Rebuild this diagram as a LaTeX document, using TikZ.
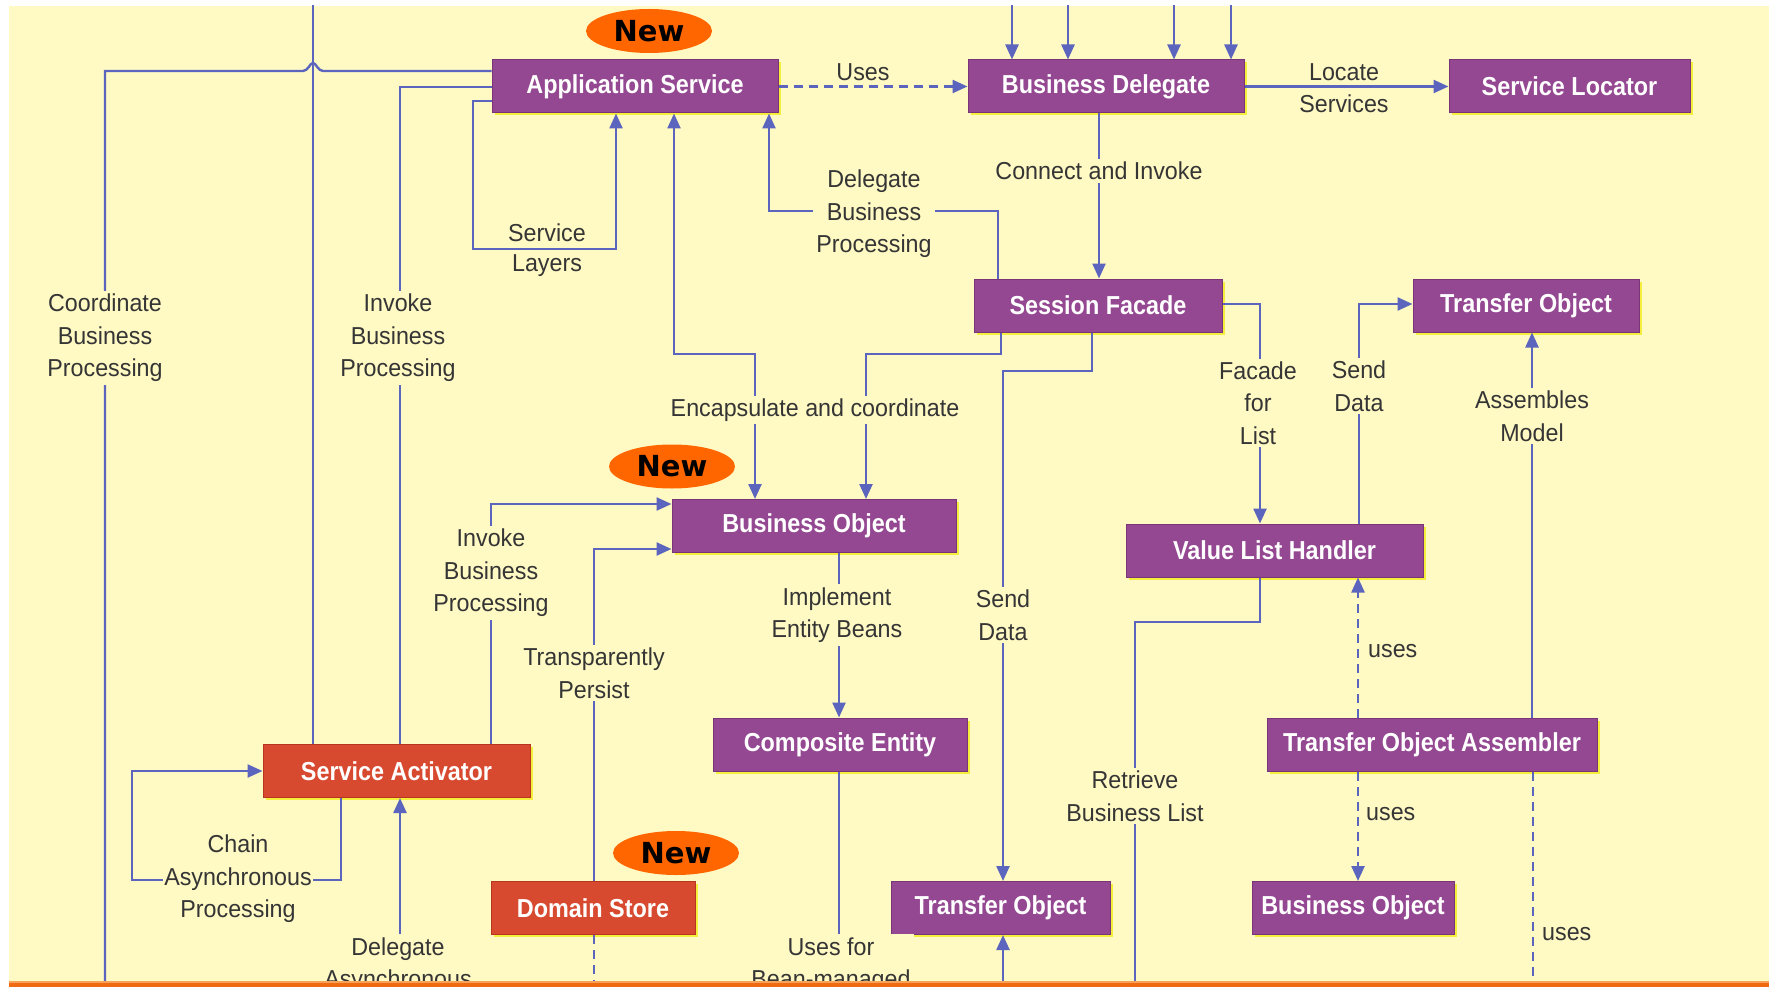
\documentclass[tikz,border=0pt]{standalone}
\usepackage{fontspec}
\setmainfont{Liberation Sans}
\newfontfamily\boxfam{Liberation Sans}[FakeStretch=0.9]
\newfontfamily\lblfam{Liberation Sans}[FakeStretch=0.95]
\newfontfamily\badgefam{DejaVu Sans}
\usetikzlibrary{arrows.meta,shapes.geometric,shadows}

\definecolor{bg}{HTML}{FFF9C4}
\definecolor{band}{HTML}{F06A12}
\definecolor{wire}{HTML}{5B65BD}
\definecolor{plum}{HTML}{944892}
\definecolor{plumedge}{HTML}{7A3478}
\definecolor{brick}{HTML}{D84A30}
\definecolor{brickedge}{HTML}{B8361F}
\definecolor{glow}{HTML}{F6EE3C}
\definecolor{ink}{HTML}{353535}
\definecolor{badge}{HTML}{FF6600}

\newcommand\lblfont{\lblfam\fontsize{24.5}{32.5}\selectfont}
\newcommand\boxfont{\boxfam\fontsize{26}{28}\selectfont\bfseries}

\begin{document}
\begin{tikzpicture}[x=1pt,y=-1pt,
  pattern box/.style={line width=1pt, text=white, minimum height=53pt,
    inner sep=0pt, font=\boxfont,
    drop shadow={shadow xshift=2.5pt, shadow yshift=-2.5pt, fill=glow, opacity=1}},
  pbox/.style={pattern box, draw=plumedge, fill=plum},
  rbox/.style={pattern box, draw=brickedge, fill=brick},
  badge/.style={ellipse, fill=badge, minimum width=126pt, minimum height=44pt,
    inner sep=0pt, font=\badgefam\bfseries\fontsize{29}{30}\selectfont},
  wire/.style={draw=wire, line width=2.4pt},
  tip/.style={-{Triangle[length=15pt,width=13pt]}},
  tips/.style={{Triangle[length=15pt,width=13pt]}-{Triangle[length=15pt,width=13pt]}},
  dashwire/.style={dash pattern=on 9pt off 6pt},
  txt/.style={text=ink, align=center, inner sep=2pt, font=\lblfont},
  lbl/.style={txt, fill=bg, inner sep=3pt},
]
\useasboundingbox (0,0) rectangle (1769,987);
\fill[white] (0,0) rectangle (1769,987);
\fill[bg] (9,6) rectangle (1769,982);

\begin{scope}
\clip (9,6) rectangle (1769,982);

% pattern boxes
\node[pbox, minimum width=286pt] (AS) at (635,86.5) {Application Service};
\node[pbox, minimum width=276pt] (BD) at (1106,86.5) {Business Delegate};
\node[pbox, minimum width=241pt] (SL) at (1569.5,86.5) {Service Locator};
\node[pbox, minimum width=248pt] (SF) at (1098,305.5) {Session Facade};
\node[pbox, minimum width=226pt] (TOa) at (1526,305.5) {Transfer Object};
\node[pbox, minimum width=284pt] (BOa) at (814,526) {Business Object};
\node[pbox, minimum width=297pt] (VLH) at (1274.5,550.5) {Value List Handler};
\node[pbox, minimum width=254pt] (CE) at (840,744.5) {Composite Entity};
\node[rbox, minimum width=267pt] (SA) at (396.5,771) {Service Activator};
\node[pbox, minimum width=330pt] (TOA) at (1432,744.5) {Transfer Object Assembler};
\node[rbox, minimum width=204pt] (DS) at (593,908) {Domain Store};
\node[pbox, minimum width=219pt] (TOb) at (1000.5,908) {Transfer Object};
\node[pbox, minimum width=202pt] (BOb) at (1353,908) {Business Object};

% "New" badges
\node[badge] (new1) at (649,31) {New};
\node[badge] (new2) at (672,466.5) {New};
\node[badge] (new3) at (676,853) {New};

% free ends at the picture border
\coordinate (eTopA) at (313,0);
\coordinate (eTop1) at (1012,0);
\coordinate (eTop2) at (1068,0);
\coordinate (eTop3) at (1174,0);
\coordinate (eTop4) at (1231,0);
\coordinate (eBotCoord) at (105,990);
\coordinate (eBotDelA) at (400,990);
\coordinate (eBotDS) at (594,990);
\coordinate (eBotCE) at (839,990);
\coordinate (eBotTO) at (1003,990);
\coordinate (eBotRet) at (1135,990);
\coordinate (eBotTOA) at (1533,990);

% connectors
\draw[wire] (313,0 |- SA.north) -- (eTopA);
\draw[wire] (AS.west |- 0,71) -- (323,71)
   .. controls (318,71) and (316,63) .. (313,63)
   .. controls (310,63) and (308,71) .. (303,71) -- (105,71) -- (eBotCoord);
\draw[wire] (AS.west |- 0,87) -- (400,87) -- (400,0 |- SA.north);
\draw[wire,tip] (AS.west |- 0,101) -- (473,101) -- (473,249) -- (616,249) -- (616,0 |- AS.south);
\draw[wire,tips] (674,0 |- AS.south) -- (674,354) -- (755,354) -- (755,0 |- BOa.north);
\draw[wire,tip] (998,0 |- SF.north) -- (998,211) -- (769,211) -- (769,0 |- AS.south);
\draw[wire,dashwire,tip] (AS.east) -- (BD.west);
\draw[wire,tip] (eTop1) -- (1012,0 |- BD.north);
\draw[wire,tip] (eTop2) -- (1068,0 |- BD.north);
\draw[wire,tip] (eTop3) -- (1174,0 |- BD.north);
\draw[wire,tip] (eTop4) -- (1231,0 |- BD.north);
\draw[wire,tip] (BD.east) -- (SL.west);
\draw[wire,tip] (1099,0 |- BD.south) -- (1099,0 |- SF.north);
\draw[wire,tip] (1001,0 |- SF.south) -- (1001,354) -- (866,354) -- (866,0 |- BOa.north);
\draw[wire,tip] (1092,0 |- SF.south) -- (1092,371) -- (1003,371) -- (1003,0 |- TOb.north);
\draw[wire,tip] (SF.east |- 0,304) -- (1260,304) -- (1260,0 |- VLH.north);
\draw[wire,tip] (1359,0 |- VLH.north) -- (1359,304) -- (TOa.west |- 0,304);
\draw[wire,tip] (1532,0 |- TOA.north) -- (1532,0 |- TOa.south);
\draw[wire] (1260,0 |- VLH.south) -- (1260,622) -- (1135,622) -- (eBotRet);
\draw[wire,dashwire,tip] (1358,0 |- TOA.north) -- (1358,0 |- VLH.south);
\draw[wire,dashwire,tip] (1358,0 |- TOA.south) -- (1358,0 |- BOb.north);
\draw[wire,dashwire] (1533,0 |- TOA.south) -- (eBotTOA);
\draw[wire,tip] (839,0 |- BOa.south) -- (839,0 |- CE.north);
\draw[wire] (839,0 |- CE.south) -- (eBotCE);
\draw[wire,tip] (eBotTO) -- (1003,0 |- TOb.south);
\draw[wire,tip] (491,0 |- SA.north) -- (491,504) -- (BOa.west |- 0,504);
\draw[wire,tip] (594,0 |- DS.north) -- (594,549) -- (BOa.west |- 0,549);
\draw[wire,dashwire] (594,0 |- DS.south) -- (eBotDS);
\draw[wire,tip] (341,0 |- SA.south) -- (341,880) -- (132,880) -- (132,0 |- SA.west) -- (SA.west);
\draw[wire,tip] (eBotDelA) -- (400,0 |- SA.south);

% connector labels
\node[lbl] (lCoord) at (105,338) {Coordinate\\Business\\Processing};
\node[lbl] (lInvA) at (398,338) {Invoke\\Business\\Processing};
\node[txt] (lSvc) at (547,233) {Service};
\node[txt] (lLay) at (547,266) {Layers};
\node[lbl] (lEnc) at (815,410) {Encapsulate and coordinate};
\node[lbl] (lDel) at (874,214) {Delegate\\Business\\Processing};
\node[txt] (lUses) at (863,72) {Uses};
\node[txt] (lLoc) at (1344,72) {Locate};
\node[txt] (lSrv) at (1344,104) {Services};
\node[lbl] (lConn) at (1099,171) {Connect and Invoke};
\node[lbl] (lSendA) at (1003,615) {Send\\Data};
\node[lbl] (lFac) at (1258,403) {Facade\\for\\List};
\node[lbl] (lSendB) at (1359,386) {Send\\Data};
\node[lbl] (lAsm) at (1532,416) {Assembles\\Model};
\node[lbl] (lRet) at (1135,796) {Retrieve\\Business List};
\node[txt, anchor=west] (lUsesA) at (1366,651) {uses};
\node[txt, anchor=west] (lUsesB) at (1364,814) {uses};
\node[txt, anchor=west] (lUsesC) at (1540,934) {uses};
\node[lbl] (lImp) at (837,615) {Implement\\Entity Beans};
\node[lbl] (lUsesFor) at (831,965) {Uses for\\Bean-managed};
\node[lbl] (lInvB) at (491,573) {Invoke\\Business\\Processing};
\node[lbl] (lTP) at (594,673) {Transparently\\Persist};
\node[lbl, inner xsep=1pt] (lChain) at (238,879) {Chain\\Asynchronous\\Processing};
\node[lbl] (lDelA) at (398,965) {Delegate\\Asynchronous};
\end{scope}

% bottom rule
\fill[band] (9,982) rectangle (1769,987);
\fill[band!60!bg] (9,981) rectangle (1769,982.5);
\end{tikzpicture}
\end{document}
